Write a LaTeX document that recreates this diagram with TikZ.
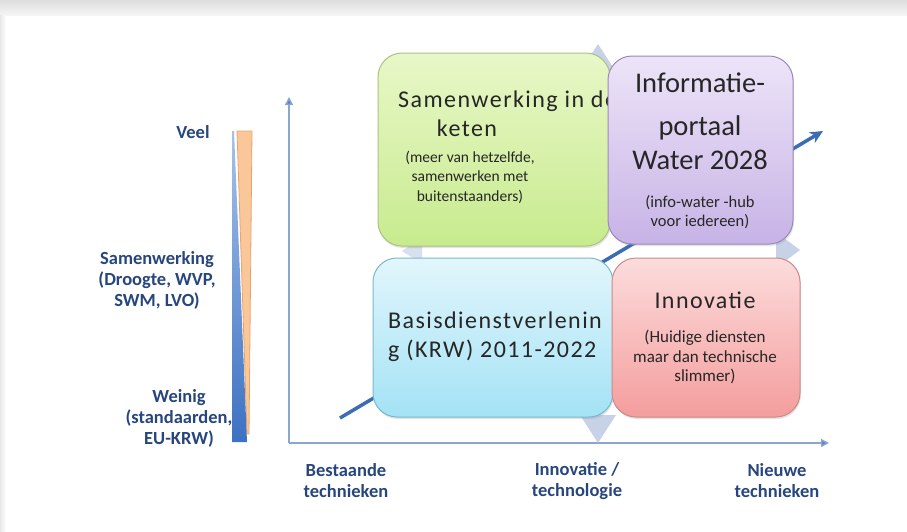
\documentclass[tikz,border=0pt]{standalone}
\usepackage{fontspec}
\setmainfont{Carlito}
\newfontfamily\spaced[LetterSpace=6]{Carlito}
\usetikzlibrary{arrows.meta,shadows}
\definecolor{lbl}{HTML}{27467E}
\definecolor{txt}{HTML}{262626}
\definecolor{axisline}{HTML}{8AA6CF}
\definecolor{axistip}{HTML}{5A80BD}
\definecolor{trend}{HTML}{3A6DB3}
\definecolor{cyc}{HTML}{C8D2E6}
\definecolor{greentop}{HTML}{E8F7C8}
\definecolor{greenbot}{HTML}{C8EB8E}
\definecolor{greenline}{HTML}{A9C384}
\definecolor{purptop}{HTML}{EDE4F8}
\definecolor{purpbot}{HTML}{C7B3E6}
\definecolor{purpline}{HTML}{9B89B9}
\definecolor{bluetop}{HTML}{E2F6FC}
\definecolor{bluebot}{HTML}{A3E2F5}
\definecolor{blueline}{HTML}{7AB9CD}
\definecolor{redtop}{HTML}{FCDCDC}
\definecolor{redbot}{HTML}{F49D9D}
\definecolor{redline}{HTML}{C98A88}
\definecolor{bartop}{HTML}{A6C2EA}
\definecolor{barbot}{HTML}{3D71C2}
\definecolor{peach}{HTML}{F9C799}
\definecolor{peachline}{HTML}{EBA367}
\tikzset{
  side/.style={text=lbl,font=\bfseries\fontsize{18.5}{21}\selectfont,align=center,inner sep=0pt},
  quad/.style={rounded corners=24pt,line width=1pt,inner sep=0pt,
    drop shadow={opacity=0.22,shadow xshift=1pt,shadow yshift=-2pt}},
  big/.style={text=txt,font=\spaced\fontsize{24}{29}\selectfont,inner sep=0pt},
  huge/.style={text=txt,font=\fontsize{28.5}{34}\selectfont,inner sep=0pt},
  small/.style={text=txt,font=\fontsize{#1}{19.5}\selectfont,align=center,inner sep=0pt},
  small/.default=16.5
}
\begin{document}
\begin{tikzpicture}[x=1pt,y=-1pt]
\useasboundingbox (0,0) rectangle (907,531);
\fill[white] (0,0) rectangle (907,531);
\shade[top color=black!13,bottom color=black!4] (0,0) rectangle (907,15);
\shade[left color=black!9,right color=white] (0,15) rectangle (6,531);

\coordinate (o) at (289,443);
\coordinate (ytip) at (289,97);
\coordinate (xtip) at (829,443);
\draw[axisline,line width=1.4pt,-{Triangle[length=8pt,width=8pt,fill=axistip]}] (o) -- (ytip);
\draw[axisline,line width=1.4pt,-{Triangle[length=8pt,width=8pt,fill=axistip]}] (o) -- (xtip);

\node[side] (veel) at (193,132) {Veel};
\node[side] (midden) at (157,280) {Samenwerking\\(Droogte, WVP,\\SWM, LVO)};
\node[side] (weinig) at (179,418) {Weinig\\(standaarden,\\EU-KRW)};
\node[side] (bestaand) at (346,481) {Bestaande\\technieken};
\node[side] (innotech) at (577,481) {Innovatie /\\technologie};
\node[side] (nieuw) at (777,481) {Nieuwe\\technieken};

\filldraw[fill=peach,draw=peachline,line width=0.8pt] (237,131) -- (252,131) -- (249,434) -- (247,434) -- cycle;
\shade[top color=bartop,bottom color=barbot] (232,131) -- (234,131) -- (247,442) -- (232,442) -- cycle;

\fill[cyc] (598,44) -- (580,72) -- (616,72) -- cycle;
\fill[cyc] (598,443) -- (580,415) -- (616,415) -- cycle;
\fill[cyc] (800,250) -- (776,232) -- (776,268) -- cycle;
\fill[cyc!70!white] (402,251) -- (422,238) -- (422,264) -- cycle;

\coordinate (tstart) at (340,418);
\coordinate (tend) at (823,131);
\draw[trend,line width=3.5pt,-{Stealth[length=13pt,width=12pt]}] (tstart) -- (tend);

\node[quad,draw=greenline,top color=greentop,bottom color=greenbot,
  minimum width=232pt,minimum height=193pt] (samen) at (494,149.5) {};
\node[big,anchor=west] (samentitel) at (398,101) {Samenwerking in de};
\node[big] (keten) at (467,128) {keten};
\node[small=15.5] (samentekst) at (470,177) {(meer van hetzelfde,\\samenwerken met\\buitenstaanders)};

\node[quad,draw=purpline,top color=purptop,bottom color=purpbot,
  minimum width=185pt,minimum height=188pt] (info) at (700.5,150) {};
\node[huge] (infotitel) at (700,83) {Informatie-};
\node[huge,align=center] (portaal) at (700,143) {portaal\\Water 2028};
\node[small] (infotekst) at (700,212) {(info-water -hub\\voor iedereen)};

\node[quad,draw=blueline,top color=bluetop,bottom color=bluebot,
  minimum width=240pt,minimum height=159pt] (basis) at (493,337.5) {};
\node[big,align=left] (basistitel) at (495,337) {Basisdienstverlenin\\g (KRW) 2011-2022};

\node[quad,draw=redline,top color=redtop,bottom color=redbot,
  minimum width=188pt,minimum height=159pt] (innov) at (706,337.5) {};
\node[big] (innovtitel) at (705,300) {Innovatie};
\node[small=17] (innovtekst) at (705,357) {(Huidige diensten\\maar dan technische\\slimmer)};
\end{tikzpicture}
\end{document}
